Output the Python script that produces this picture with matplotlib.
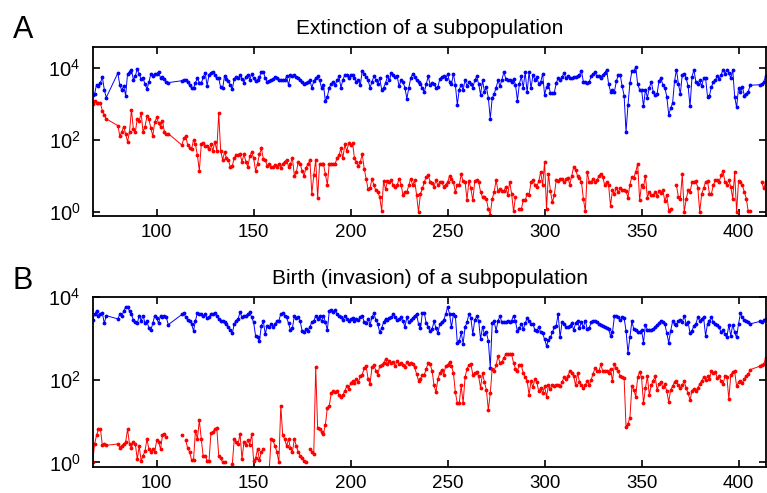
import numpy as np
import matplotlib
matplotlib.use("Agg")
import matplotlib.pyplot as plt

plt.rcParams['font.family'] = ['Liberation Sans', 'DejaVu Sans']
plt.rcParams['mathtext.fontset'] = 'custom'
plt.rcParams['mathtext.rm'] = 'Liberation Sans'
plt.rcParams['mathtext.default'] = 'regular'

nan = np.nan

# sampling times (no samples in 75-79, 107-112 and 407-410)
t = list(range(67, 75)) + list(range(80, 107)) + list(range(113, 407)) + list(range(411, 415))

# Panel A: extinction of a subpopulation
blue_a = [
    1800, 1900, 3400, 3100, 3800, 5600, 2500, 1500,
    7200, 3300, 2400, 3200, 1700, 6800, 7900, 8500, 4700, 5900,
    9300, 6800, 4900, 5200, 3500, 2600, 4000, 6800, 5900, 6800,
    6800, 7800, 5200, 5500, 5000, 4000, 3900,
    4400, 4600, 4700, 4000, 3300, 2700, 2700,
    3900, 5100, 3900, 3700, 5500, 7400, 3200, 6400, 7400, 7900,
    6400, 5100, 5100, 2900, 2700, 6000, 4900, 4200, 3400, 2600,
    4900, 5500, 5100, 6400, 5000, 3900, 5700, 6400, 4700, 6800,
    5100, 4200, 4700, 5500, 7900, 7900, 5200, 4100, 4300, 4500,
    5000, 5500, 5200, 4700, 4500, 4500, 4500, 5800, 3300, 6300,
    5800, 6300, 5500, 5200, 4700, 4100, 3600, 3800, 4100, 4500,
    2800, 4300, 5200, 5800, 4500, 2800, 3300, 1170, 1600, 2800,
    3600, 4100, 3300, 4500, 5800, 2800, 4700, 6300, 6300, 5200,
    6500, 6300, 5200, 4100, 4700, 3300, 8400, 6800, 5500, 4700,
    2800, 4100, 5800, 4700, 3600, 5200, 2500, 2800, 3800, 5800,
    4500, 7200, 6500, 5500, 5800, 3100, 4500, 4100, 2800, 1400,
    2800, 5200, 6800, 5500, 4500, 4100, 3600, 2700, 2100, 3600,
    5800, 3400, 3700, 3600, 2800, 3000, 5000, 5500, 5800, 5000,
    6800, 4100, 3600, 6800, 3400, 950, 2500, 3400, 2400, 4700,
    3100, 4100, 3600, 2800, 4500, 5800, 3600, 1800, 4500, 2200,
    2900, 1500, 385, 1450, 1900, 2800, 4500, 3100, 4700, 7700,
    5000, 4500, 4500, 4100, 5000, 3400, 1240, 3600, 5800, 2800,
    7700, 2100, 7700, 2700, 6300, 4700, 5500, 3600, 4100, 6800,
    1800, 2900, 3600, 2000, 2000, 2000, 3800, 5200, 4700, 5500,
    7200, 5200, 5800, 5200, 5200, 5500, 5500, 5800, 6500, 8400,
    4100, 4100, 3800, 4100, 5800, 6800, 7700, 5800, 5800, 5200,
    6500, 7200, 8900, 3600, 2200, 2500, 2200, 4200, 6500, 6300,
    3100, 1700, 165, 950, 3800, 8100, 8100, 10500, 3500, 2500,
    2500, 850, 2500, 1500, 2800, 4100, 2200, 1800, 1900, 4300,
    5200, 3300, 2800, 1600, 500, 760, 1050, 4300, 8900, 3600,
    1900, 6500, 6800, 5200, 3100, 850, 5600, 8900, 4100, 3600,
    4500, 3100, 5200, 5200, 1600, 1700, 2900, 4100, 4500, 5800,
    5000, 6300, 8900, 6800, 8900, 7200, 5200, 8900, 1600, 800,
    2800, 2100, 2900, 1700, 1900, 2200, 3300,
    3400, 3600, 4100, 6000,
]

red_a = [
    1000, 1170, 1050, 1050, 1050, 650, 500, 385,
    250, 130, 165, 235, 145, 90, 165, 690, 200, 165,
    385, 340, 550, 165, 235, 450, 385, 210, 130, 310,
    420, 290, 235, 340, 165, 145, 150,
    72, 110, 125, 72, 60, 55, 100,
    75, 38, 14, 75, 80, 66, 66, 55, 75, 50,
    90, 50, 550, 50, 28, 45, 32, 27, 18, 19,
    32, 38, 38, 40, 25, 40, 25, 18, 35, 47,
    31, 14, 22, 40, 58, 30, 28, 19, 22, 18,
    18, 20, 18, 22, 17, 22, 25, 28, 18, 22,
    32, 10, 12.5, 25, 22, 13.6, 10, 17, 21, 28,
    3.2, 10.5, 28, 2.5, 22, 22, 22, 11, 5.8, 22,
    22, 22, 22, 31, 38, 58, 31, 75, 49, 80,
    72, 80, 31, 25, 19, 25, 40, 16, 8.5, 4.3,
    4.5, 8.5, 5.5, 4, 3.6, 2.6, 1.1, 7.2, 4.3, 7.2,
    6.9, 7.6, 5.5, 5, 5.5, 8.5, 5.8, 3.0, 3.6, 3.6,
    5.5, 8.5, 5.5, 7.6, 3.0, 1.0, 3.2, 4.5, 6.9, 9.5,
    10.5, 7, 6.2, 5, 7.6, 5.5, 6.6, 6.9, 5, 5.8,
    6.6, 10, 8.5, 6.9, 3.6, 5.8, 5.5, 11, 7.2, 6.9,
    2.2, 7.2, 4.5, 2.1, 7.2, 7.6, 6.9, 3.6, 2.6, 2.6,
    2.25, 1.2, 0.85, 2.3, 3.6, 7.6, 3.8, 4.3, 3.8, 3.8,
    5, 2.9, 6.9, 3.2, 1.04, 2.6, nan, 1.19, 1.19, 2.1,
    2.1, 3.2, 3.0, 6.6, 7.6, 5.5, 5, 7.2, 13, 5.5,
    24, 1.24, 11.7, 3.8, 1.9, 2.9, 7.6, 7.2, 8.2, 8.2,
    6.6, 8.2, 8.9, 5.8, 10, 18, 14.5, 10, 8.9, 6.9,
    2.35, 1.04, 13, 6.9, 6.6, 8.5, 6.9, 7.6, 10, 11.7,
    9.5, 5.5, 6.9, 5.5, 1.5, 4, 3.2, 4.7, 3.6, 4.5,
    4, 4, 3.8, 2.5, 5.8, 9.5, 8.9, 13, 22, 2.1,
    5.8, 5, 10, 2.5, 3.6, 3, 2.9, 3.6, 2.8, 3.8,
    3.4, 4, 2.0, 3, 1.1, 1.24, nan, nan, 5.5, 2.6,
    2.35, 11, 1.0, 2.25, 4, 3.6, 6.6, 6.9, 7.2, 4.7,
    1.0, 3.2, 4.5, 6.9, 7.2, 3.2, 3.2, 5.5, 7.6, 7.6,
    6.9, 10.5, 13.6, 6.9, 5.8, 7.6, 5, 2.35, 12.5, 1.0,
    7.2, 6.6, 5.5, 3.6, 2.35, 1.04, 1.1,
    nan, 6.6, 4.5, 6.9,
]

# Panel B: birth (invasion) of a subpopulation
blue_b = [
    2800, 3800, 4600, 3550, 3800, 4100, 2300, 3550,
    2950, 3800, 3400, 4600, 5700, 5700, 4600, 3800, 2770, 2450,
    2300, 3550, 2680, 3550, 2300, 2560, 1770, 1590, 2300, 3550,
    3100, 2300, 3550, 3200, 3550, 3200, 2140,
    3800, 4100, 3200, 2770, 2680, 2240, 1520,
    2680, 4100, 3800, 3800, 3400, 3800, 3100, 3200, 3900, 3800,
    4100, 3400, 2950, 2560, 2560, 2450, 2240, 1910, 1590, 1320,
    2240, 2680, 2950, 4300, 3200, 3400, 3550, 3800, 4300, 3200,
    2450, 1150, 1050, 870, 2040, 2560, 1260, 2040, 1850, 2240,
    1910, 2240, 2560, 2680, 3900, 4100, 3550, 3200, 2300, 1590,
    1770, 3550, 3100, 3200, 2560, 1520, 1390, 1680, 1520, 1910,
    2450, 2560, 3550, 2950, 3400, 2560, 3550, 2450, 1590, 4600,
    4900, 4300, 4900, 3800, 3400, 3200, 2770, 3400, 2950, 2680,
    2950, 3100, 2680, 2950, 2770, 3200, 3550, 2450, 2300, 2950,
    2140, 3200, 4100, 2770, 2240, 1390, 1770, 2450, 2950, 2770,
    3100, 3200, 3800, 3200, 2770, 2950, 3200, 2560, 1910, 3200,
    2450, 2770, 3100, 3550, 3800, 2240, 1770, 4100, 4100, 2300,
    1910, 1480, 1680, 2560, 1770, 1320, 2240, 2450, 2770, 3800,
    5700, 3900, 1850, 3800, 3550, 790, 840, 1390, 750, 1850,
    2450, 3900, 3100, 1260, 2770, 3400, 2680, 950, 1910, 1260,
    1390, 870, 195, 2300, 2560, 1520, 2680, 3400, 2450, 2450,
    2450, 2680, 2450, 2680, 3550, 2560, 1480, 1770, 2240, 1680,
    2300, 3100, 2560, 2240, 2240, 1590, 1480, 1910, 1390, 1320,
    950, 660, 910, 1050, 1390, 1850, 2040, 3900, 1050, 2450,
    2240, 1910, 1850, 2040, 2300, 1590, 2300, 2680, 1770, 2450,
    1850, 2680, 1680, 1770, 2450, 2560, 2680, 2450, 2240, 2140,
    2040, 1910, 1770, 1680, 1150, 1390, 3400, 3550, 3200, 2770,
    3200, 3100, 1520, 450, 1050, 2560, 1680, 1590, 1390, 1390,
    1590, 790, 2140, 1590, 1590, 1590, 1680, 1850, 2140, 2300,
    2680, 2450, 2240, 1320, 790, 1520, 2560, 2240, 2140, 2560,
    2770, 2450, 3550, 2240, 2450, 1320, 1520, 2040, 2240, 3200,
    2680, 2950, 3200, 1150, 2240, 2680, 3200, 2450, 2240, 2140,
    1850, 1390, 1590, 1260, 1050, 2140, 1150, 2140, 1390, 1050,
    2240, 4100, 3200, 2770, 2560, 2450, 2240,
    2560, 2450, 2770, 2950,
]

red_b = [
    1.0, 2.8, 4.5, 6.5, 6.5, 2.6, 2.8, 2.6,
    2.8, 2.3, 2.5, 2.8, 3.1, 6.3, 2.8, 2.3, 3.1, 2.8,
    1.2, 2.5, 1.1, 1.45, 1.9, 3.7, 2.1, 1.8, 2.1, 1.8,
    3.4, 3.2, 2.1, 4.5, 4.9, 4.1, nan,
    4.5, nan, 3.4, 2.2, 1.8, 1.15, 1.15,
    5.8, 3.7, 10.5, 3.7, 1.4, 1.45, 1.1, 1.1, 5.2, 5.4,
    6.5, 6.8, 1.45, 1.3, 1.0, 1.04, nan, nan, nan, 0.9,
    3.7, 3.1, 2.8, 4.9, 1.2, 3.1, 2.6, 3.4, 2.7, 4.9,
    1.1, 1.25, 2.1, 1.15, 1.8, 2.1, nan, nan, 0.6, 3.7,
    3.4, 2.5, 1.8, 1.0, 23.5, 4.5, 3.7, 2.5, 3.7, 2.2,
    1.8, 3.7, 2.5, 1.8, 1.45, 1.25, 1.1, 1.05, nan, 2.1,
    1.75, 1.6, 200, 6.8, 6.5, 5.6, 4.9, 8.2, 21, 23.5,
    47, 52, 50, 52, 43, 39, 43, 54, 69, 60,
    83, 91, 83, 106, 88, 120, 133, 193, 212, 106,
    78, 200, 225, 165, 133, 212, 225, 255, 310, 240,
    290, 255, 270, 212, 290, 240, 255, 225, 200, 270,
    240, 255, 240, 200, 137, 95, 106, 128, 133, 185,
    255, 235, 165, 73, 50, 106, 145, 175, 133, 212,
    225, 270, 212, 145, 50, 27, 27, 73, 27, 114,
    185, 225, 240, 133, 145, 155, 120, 63, 145, 88,
    57, 18.5, 47, 185, 165, 225, 370, 255, 270, 340,
    410, 410, 410, 410, 255, 185, 165, 225, 225, 145,
    114, 95, 43, 91, 65, 106, 88, 52, 63, 47,
    69, 39, 73, 60, 76, 69, 73, 73, 69, 88,
    114, 106, 120, 165, 145, 120, 73, 145, 88, 73,
    63, 73, 95, 73, 100, 137, 193, 160, 160, 235,
    160, 165, 160, 145, 185, 91, 240, 193, 160, 120,
    114, 110, 7.2, 8.7, 12, 69, 57, 39, 114, 155,
    114, 27, 63, 120, 43, 73, 95, 120, 57, 78,
    88, 65, 78, 52, 29, 57, 69, 88, 91, 73,
    63, 76, 91, 63, 47, 32, 54, 60, 54, 63,
    78, 95, 114, 100, 120, 106, 160, 145, 155, 110,
    120, 91, 78, 120, 114, 34, 128, 155, 160, 69,
    88, 95, 83, 106, 120, 137, 175,
    212, 225, 240, 340,
]

fig = plt.figure(figsize=(7.67, 4.93), dpi=100)
ax_a = fig.add_axes([0.1213, 0.5619, 0.8775, 0.3428])
ax_b = fig.add_axes([0.1213, 0.0527, 0.8775, 0.3449])

panels = [
    (ax_a, blue_a, red_a, 10 ** 4.58, 'Extinction of a subpopulation', 'A', 1.10),
    (ax_b, blue_b, red_b, 10 ** 4.0, 'Birth (invasion) of a subpopulation', 'B', 1.094),
]

for ax, blue, red, ytop, title, letter, ly in panels:
    ax.plot(t, blue, color=(0, 0, 1), lw=0.7, marker='.', ms=3.5)
    ax.plot(t, red, color=(1, 0, 0), lw=0.7, marker='.', ms=3.5)
    ax.set_yscale('log')
    ax.set_xlim(67.2, 414.2)
    ax.set_ylim(10 ** -0.11, ytop)
    ax.set_xticks([100, 150, 200, 250, 300, 350, 400])
    ax.set_yticks([1, 100, 10000])
    ax.set_yticklabels(['$10^{0}$', '$10^{2}$', '$10^{4}$'])
    ax.minorticks_off()
    ax.tick_params(direction='in', length=5, width=1.2, labelsize=13.5,
                   top=True, right=True, pad=6)
    ax.tick_params(axis='y', labelsize=14.5, pad=9)
    for s in ax.spines.values():
        s.set_linewidth(1.3)
    ax.set_title(title, fontsize=15, pad=9)
    ax.text(-0.119, ly, letter, transform=ax.transAxes, fontsize=22,
            ha='left', va='center')

fig.savefig('out.png', dpi=100)
